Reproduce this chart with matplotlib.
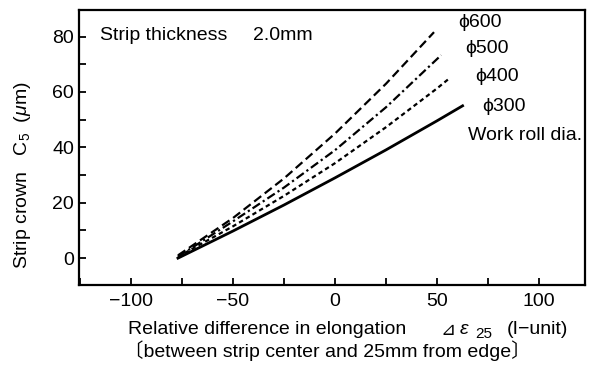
#module imports
import matplotlib.pyplot as plt
from matplotlib.ticker import MultipleLocator

#font setup
plt.rcParams['font.family'] = ['Liberation Sans', 'Noto Sans CJK JP', 'DejaVu Sans']
plt.rcParams['mathtext.fontset'] = 'custom'
plt.rcParams['mathtext.rm'] = 'Liberation Sans'
plt.rcParams['mathtext.it'] = 'Liberation Sans:italic'

#data (work roll diameter curves)
x300 = [-77, -50, -25, 0, 25, 50, 62.5]
y300 = [0, 9.8, 19.2, 29, 39.1, 49.6, 55]
x400 = [-77, -50, -25, 0, 25, 50, 55.5]
y400 = [0.5, 11.5, 22.5, 34.3, 47.3, 61.3, 64.6]
x500 = [-77, -50, -25, 0, 25, 52]
y500 = [0.5, 13.3, 25.5, 39, 54.5, 73.3]
x600 = [-77, -50, -25, 0, 25, 48.5]
y600 = [1, 14.5, 28.8, 45, 63, 81.6]

roll_labels = ["\u03d5600", "\u03d5500", "\u03d5400", "\u03d5300"]
label_x = [60.3, 63.7, 68.6, 72]
label_y = [85.2, 75.8, 65.7, 54.9]

W, H = 589, 365
FS = 14
fig, ax = plt.subplots(figsize=(W / 100, H / 100), dpi=100)
fig.subplots_adjust(left=79 / W, right=585 / W, top=1 - 10 / H, bottom=1 - 285 / H)

LW = 1.6
ax.plot(x600, y600, color="black", linewidth=LW, linestyle=(0, (4, 2)))
ax.plot(x500, y500, color="black", linewidth=LW, linestyle=(0, (4, 1.5, 1, 1.5)))
ax.plot(x400, y400, color="black", linewidth=LW, linestyle=(0, (2, 1.5)))
ax.plot(x300, y300, color="black", linewidth=2.0, linestyle="-")

#labels next to the line ends
for lab, lx, ly in zip(roll_labels, label_x, label_y):
    ax.text(lx, ly, lab, fontsize=FS, ha="left", va="center")
ax.text(65.2, 44.4, "Work roll dia.", fontsize=FS, ha="left", va="center")
ax.text(-115.2, 80.5, "Strip thickness", fontsize=FS, ha="left", va="center")
ax.text(-40.2, 80.5, "2.0mm", fontsize=FS, ha="left", va="center")

#axes setup
ax.set_xlim(-125.5, 122.5)
ax.set_ylim(-9.7, 89.6)
ax.xaxis.set_major_locator(MultipleLocator(50))
ax.xaxis.set_minor_locator(MultipleLocator(25))
ax.yaxis.set_major_locator(MultipleLocator(20))
ax.yaxis.set_minor_locator(MultipleLocator(10))
ax.tick_params(which="both", direction="in", length=5, width=1.3, labelsize=FS)
ax.tick_params(axis="x", pad=6)
for sp in ax.spines.values():
    sp.set_linewidth(1.6)

ax.set_ylabel(r"Strip crown   C$_5$  ($\mu$m)", fontsize=FS)
ax.yaxis.set_label_coords(-0.09, 0.40)

#x label pieces, placed in pixel positions of the figure
def fx(px):
    return px / W

def fy(py):
    return 1 - py / H

fig.text(fx(128), fy(330), "Relative difference in elongation", fontsize=FS, va="center")
fig.text(fx(440), fy(330), "\u22bf", fontsize=13, va="center", family=["DejaVu Sans"])
fig.text(fx(459), fy(330), r"$\varepsilon$", fontsize=FS, va="center")
fig.text(fx(475), fy(334), "25", fontsize=11, va="center")
fig.text(fx(507), fy(330), "(I\u2212unit)", fontsize=FS, va="center")
fig.text(fx(124), fy(351), "\u3014between strip center and 25mm from edge\u3015", fontsize=FS,
         va="center", family=["Liberation Sans", "Noto Sans CJK JP"])

fig.savefig("out.png", dpi=100)
